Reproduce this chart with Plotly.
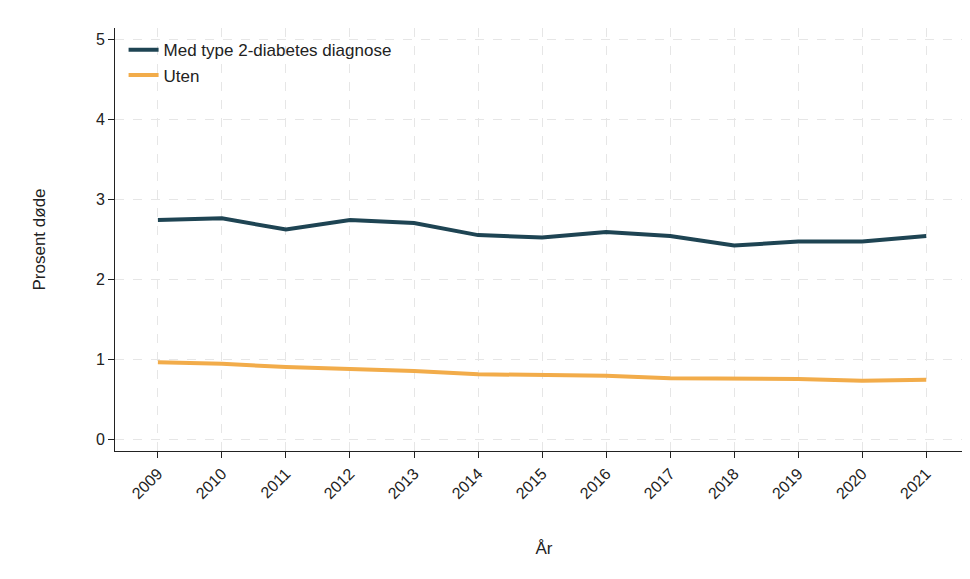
import plotly.graph_objects as go

years = list(range(2009, 2022))
med_diabetes = [2.74, 2.76, 2.62, 2.74, 2.70, 2.55, 2.52, 2.59, 2.54, 2.42, 2.47, 2.47, 2.54]
uten = [0.96, 0.94, 0.90, 0.88, 0.85, 0.81, 0.80, 0.79, 0.76, 0.76, 0.75, 0.73, 0.74]

fig = go.Figure()
fig.add_trace(go.Scatter(x=years, y=med_diabetes, mode="lines", name="Med type 2-diabetes diagnose",
                         line=dict(color="#1e4453", width=4)))
fig.add_trace(go.Scatter(x=years, y=uten, mode="lines", name="Uten",
                         line=dict(color="#f2ac4a", width=4)))

axis_common = dict(showline=True, linecolor="#222", linewidth=1, ticks="outside", ticklen=6,
                   tickcolor="#222", showgrid=True, gridcolor="#e6e6e6", griddash="dash",
                   zeroline=False, automargin=False, tickfont=dict(size=16, color="#222"))
fig.update_xaxes(range=[2008.33, 2021.73], tickvals=years, tickangle=-45,
                 title=dict(text="År", font=dict(size=17, color="#222"), standoff=40), **axis_common)
fig.update_yaxes(range=[-0.15, 5.14], tickvals=[0, 1, 2, 3, 4, 5],
                 title=dict(text="Prosent døde", font=dict(size=17, color="#222"), standoff=45), **axis_common)
fig.update_layout(
    width=970, height=579,
    margin=dict(l=107, r=5, t=20, b=136),
    plot_bgcolor="white", paper_bgcolor="white",
    font=dict(family="Liberation Sans, Arial", color="#222"),
    legend=dict(x=0.01, y=0.99, xanchor="left", yanchor="top", bgcolor="rgba(0,0,0,0)",
                font=dict(size=17)),
)
fig.write_html("out.html")
